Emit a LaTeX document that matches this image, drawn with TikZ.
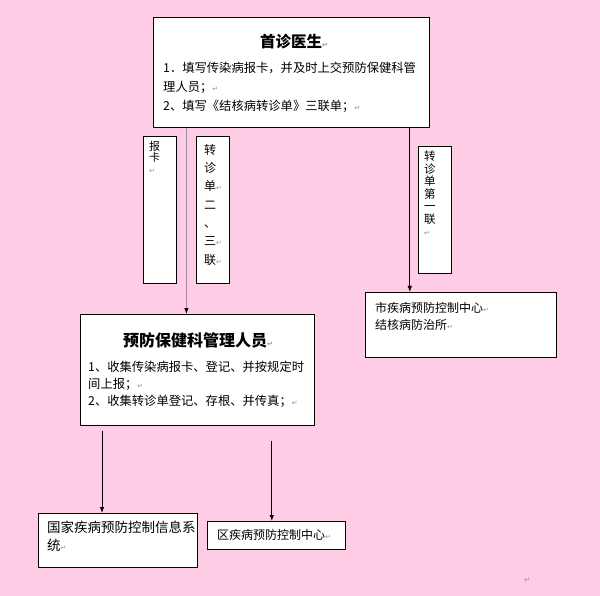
\documentclass[tikz,border=0pt]{standalone}
\usepackage{fontspec}
\usepackage{tikz}
\usetikzlibrary{arrows.meta,positioning,calc}
\setmainfont{Noto Sans CJK SC}
\newfontfamily\symfont{DejaVu Sans}
\definecolor{pinkbg}{HTML}{FFCCE5}
\definecolor{markgray}{HTML}{9A8A95}
\definecolor{linegray}{HTML}{A88C9C}
\newcommand\retmark{{\symfont\fontsize{7}{7}\selectfont\color{markgray}↵}}

\begin{document}
\begin{tikzpicture}[x=1pt,y=-1pt,
  box/.style={draw,fill=white,line width=0.8pt,inner sep=0pt,anchor=north west},
  txt/.style={anchor=north west,inner sep=0pt,align=left,font=\fontsize{12.3}{19}\selectfont},
  ttl/.style={anchor=west,inner sep=0pt,font=\fontsize{15.5}{18}\selectfont\bfseries},
  arr/.style={-{Latex[length=6pt,width=4.5pt,black]},line width=0.8pt}]
\fill[pinkbg] (0,0) rectangle (600,596);
\useasboundingbox (0,0) rectangle (600,596);
% boxes
\node[box,minimum width=276pt,minimum height=110pt] (doctor) at (153,17) {};
\node[box,minimum width=33pt,minimum height=147pt] (card) at (143,136) {};
\node[box,minimum width=33pt,minimum height=147pt] (slip) at (196,136) {};
\node[box,minimum width=33pt,minimum height=127pt] (firstcopy) at (418,146) {};
\node[box,minimum width=191pt,minimum height=65pt] (city) at (365,292) {};
\node[box,minimum width=234pt,minimum height=111pt] (manager) at (80,314) {};
\node[box,minimum width=159pt,minimum height=54pt] (national) at (38,513) {};
\node[box,minimum width=138pt,minimum height=28pt] (district) at (207,521) {};
% texts
\node[ttl] (doctortitle) at (260,42) {首诊医生\retmark};
\node[txt] (doctortext) at (163,62) {1．填写传染病报卡，并及时上交预防保健科管\\理人员；\retmark\\2、填写《结核病转诊单》三联单；\retmark};
\node[txt,font=\fontsize{11}{11.5}\selectfont] (cardtext) at (149,141) {报\\卡\\\retmark};
\node[txt,font=\fontsize{12}{18.3}\selectfont] (sliptext) at (204,144) {转\\诊\\单\retmark\\二\\、\\三\retmark\\联\retmark};
\node[txt,font=\fontsize{11.5}{12.5}\selectfont] (copytext) at (424,151) {转\\诊\\单\\第\\一\\联\\\retmark};
\node[txt,font=\fontsize{12}{17}\selectfont] (citytext) at (375,302) {市疾病预防控制中心\retmark\\结核病防治所\retmark};
\node[ttl,font=\fontsize{16}{18}\selectfont\bfseries] (managertitle) at (123,340) {预防保健科管理人员\retmark};
\node[txt,font=\fontsize{12.3}{17}\selectfont] (managertext) at (88,361) {1、收集传染病报卡、登记、并按规定时\\间上报；\retmark\\2、收集转诊单登记、存根、并传真；\retmark};
\node[txt,font=\fontsize{13.5}{18}\selectfont] (nationaltext) at (47,521) {国家疾病预防控制信息系\\统\retmark};
\node[txt,font=\fontsize{12}{17}\selectfont] (districttext) at (217,529) {区疾病预防控制中心\retmark};
\node[inner sep=0pt] (endmark) at (527,580) {\retmark};
% arrows
\coordinate (split) at ($(card.east)!.5!(slip.west)$);
\draw[arr,draw=linegray] (doctor.south -| split) -- (manager.north -| split);
\coordinate (tocity) at ([xshift=-20pt]doctor.south east);
\draw[arr] (tocity) -- (tocity |- city.north);
\coordinate (tonational) at ([xshift=22pt,yshift=-5pt]manager.south west);
\draw[arr] (tonational) -- (tonational |- national.north);
\coordinate (todistrict) at ([xshift=-43pt,yshift=-15pt]manager.south east);
\draw[arr] (todistrict) -- (todistrict |- district.north);
\end{tikzpicture}
\end{document}
